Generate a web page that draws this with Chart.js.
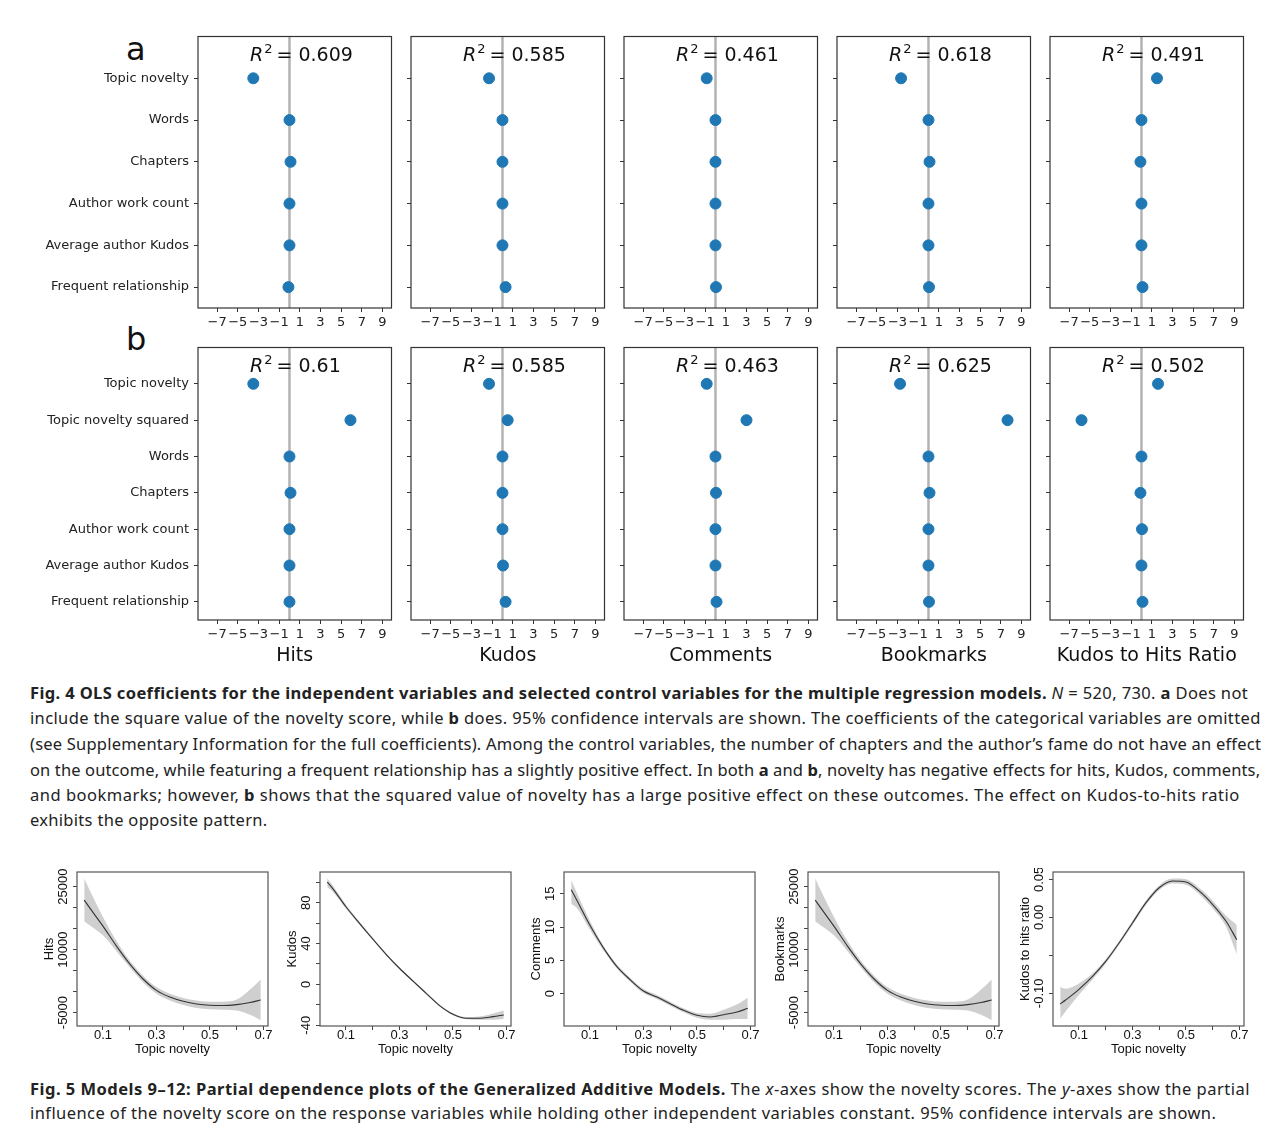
<!DOCTYPE html>
<html>
<head>
<meta charset="utf-8">
<script src="https://cdn.jsdelivr.net/npm/chart.js@4.4.1/dist/chart.umd.min.js"></script>
<style>
  body { margin: 0; background: #fff; width: 1280px; height: 1143px; position: relative; overflow: hidden; }
  .letter { position: absolute; font: 32px "DejaVu Sans"; color: #111; line-height: 32px; }
  .cap { position: absolute; left: 30px; font: 16.5px "Noto Sans"; color: #222; white-space: nowrap; line-height: 20px; }
  .cap b { font-weight: 700; }
</style>
</head>
<body>

<div class="letter" style="left:126px;top:33px">a</div>
<div class="letter" style="left:126px;top:323px">b</div>

<div class="cap" data-w="1218" style="top:683px"><b>Fig. 4 OLS coefficients for the independent variables and selected control variables for the multiple regression models.</b> <i>N</i> = 520, 730. <b>a</b> Does not</div>
<div class="cap" data-w="1231" style="top:708px">include the square value of the novelty score, while <b>b</b> does. 95% confidence intervals are shown. The coefficients of the categorical variables are omitted</div>
<div class="cap" data-w="1231" style="top:734px">(see Supplementary Information for the full coefficients). Among the control variables, the number of chapters and the author’s fame do not have an effect</div>
<div class="cap" data-w="1230" style="top:760px">on the outcome, while featuring a frequent relationship has a slightly positive effect. In both <b>a</b> and <b>b</b>, novelty has negative effects for hits, Kudos, comments,</div>
<div class="cap" data-w="1210" style="top:785px">and bookmarks; however, <b>b</b> shows that the squared value of novelty has a large positive effect on these outcomes. The effect on Kudos-to-hits ratio</div>
<div class="cap" data-w="238" style="top:810px">exhibits the opposite pattern.</div>

<div class="cap" data-w="1220" style="top:1079px"><b>Fig. 5 Models 9–12: Partial dependence plots of the Generalized Additive Models.</b> The <i>x</i>-axes show the novelty scores. The <i>y</i>-axes show the partial</div>
<div class="cap" data-w="1186" style="top:1103px">influence of the novelty score on the response variables while holding other independent variables constant. 95% confidence intervals are shown.</div>

<script>
// ---- Fig. 4 data (OLS coefficients) ----
const varsA = ["Topic novelty", "Words", "Chapters", "Author work count", "Average author Kudos", "Frequent relationship"];
const varsB = ["Topic novelty", "Topic novelty squared", "Words", "Chapters", "Author work count", "Average author Kudos", "Frequent relationship"];
const outcomes = ["Hits", "Kudos", "Comments", "Bookmarks", "Kudos to Hits Ratio"];
const r2A = ["0.609", "0.585", "0.461", "0.618", "0.491"];
const r2B = ["0.61", "0.585", "0.463", "0.625", "0.502"];
const coefA = [
  [-3.5, 0.0, 0.1, 0.0, 0.0, -0.1],
  [-1.3, 0.0, 0.0, 0.0, 0.0, 0.3],
  [-0.85, 0.0, 0.0, 0.0, 0.0, 0.05],
  [-2.65, 0.0, 0.1, 0.0, 0.0, 0.05],
  [1.5, 0.0, -0.1, 0.0, 0.0, 0.1]
];
const coefB = [
  [-3.5, 5.9, 0.0, 0.1, 0.0, 0.0, 0.0],
  [-1.3, 0.5, 0.0, 0.0, 0.0, 0.05, 0.3],
  [-0.85, 3.0, 0.0, 0.05, 0.0, 0.0, 0.1],
  [-2.75, 7.65, 0.0, 0.1, 0.0, 0.0, 0.05],
  [1.6, -5.8, 0.0, -0.1, 0.05, 0.0, 0.1]
];
const coefTicks = [-7, -5, -3, -1, 1, 3, 5, 7, 9];

// ---- Fig. 5 data (GAM partial dependence) ----
const novelty = [0.03, 0.05, 0.1, 0.15, 0.2, 0.25, 0.3, 0.35, 0.4, 0.45, 0.5, 0.55, 0.6, 0.65, 0.69];
const hitsFit = [21800, 20000, 15600, 10900, 6600, 3000, 300, -1300, -2300, -2950, -3250, -3300, -3100, -2600, -2000];
const hitsHi  = [27000, 24200, 17800, 12100, 7400, 3800, 1100, -500, -1500, -2150, -2450, -2400, -1900, 500, 2900];
const hitsLo  = [16700, 15800, 13400, 9700, 5800, 2200, -500, -2100, -3200, -3900, -4200, -4300, -4500, -5500, -6800];
const kudosFit = [100, 94, 76, 60, 44.5, 29.5, 15.8, 3.4, -8.7, -20.7, -29.2, -33.1, -33.1, -31.5, -29.9];
const kudosHi  = [104, 97, 78, 61.5, 45.5, 30.5, 16.8, 4.4, -7.7, -19.7, -28.2, -32, -31.5, -28.5, -25.6];
const kudosLo  = [95, 91, 74, 58.5, 43.5, 28.5, 14.8, 2.4, -9.7, -21.7, -30.2, -34.2, -34.7, -34.5, -33.8];
const commentsFit = [15.6, 14.1, 10.25, 6.9, 4.1, 2.1, 0.4, -0.5, -1.5, -2.5, -3.25, -3.5, -3.15, -2.75, -2.2];
const commentsHi  = [17.1, 15.2, 10.9, 7.2, 4.4, 2.4, 0.7, -0.2, -1.2, -2.2, -2.9, -3.0, -2.4, -1.6, -0.6];
const commentsLo  = [13.5, 12.9, 9.6, 6.5, 3.8, 1.8, 0.1, -0.8, -1.8, -2.8, -3.6, -3.9, -3.9, -3.8, -3.8];
const bookmarksFit = [21800, 20000, 15600, 10900, 6600, 3000, 300, -1300, -2300, -2950, -3250, -3300, -3100, -2600, -2000];
const bookmarksHi  = [27000, 24200, 17800, 12100, 7400, 3800, 1100, -500, -1500, -2150, -2450, -2400, -1900, 500, 2900];
const bookmarksLo  = [16700, 15800, 13400, 9700, 5800, 2200, -500, -2100, -3200, -3900, -4200, -4300, -4500, -5500, -6800];
const ratioFit = [-0.114, -0.1088, -0.0947, -0.078, -0.058, -0.0338, -0.0074, 0.019, 0.039, 0.0478, 0.0465, 0.0345, 0.0169, -0.0052, -0.0294];
const ratioHi  = [-0.0916, -0.094, -0.087, -0.074, -0.055, -0.031, -0.0045, 0.022, 0.042, 0.051, 0.050, 0.0385, 0.022, 0.002, -0.0099];
const ratioLo  = [-0.1335, -0.124, -0.102, -0.082, -0.061, -0.0365, -0.0103, 0.016, 0.036, 0.0445, 0.043, 0.0305, 0.0115, -0.0125, -0.0488];
const noveltyTicks = [0.1, 0.2, 0.3, 0.4, 0.5, 0.6, 0.7];
const noveltyLabels = [0.1, 0.3, 0.5, 0.7];

// stretch / squeeze each caption line to the width it has in the printed figure
document.querySelectorAll(".cap[data-w]").forEach(el => {
  const natural = el.offsetWidth;
  const chars = el.textContent.length;
  el.style.letterSpacing = ((+el.dataset.w - natural) / chars) + "px";
});

function makeCanvas(left, top, w, h) {
  const c = document.createElement("canvas");
  c.width = w; c.height = h;
  c.style.cssText = `position:absolute;left:${left}px;top:${top}px;width:${w}px;height:${h}px`;
  document.body.appendChild(c);
  return c;
}

// keep the plot box exactly where it is meant to be
function noPad(s) { s.paddingTop = 0; s.paddingBottom = 0; s.paddingLeft = 0; s.paddingRight = 0; }

// frame around the plot area (matplotlib / R box)
const boxPlugin = {
  id: "box",
  afterDraw(chart, args, opts) {
    const { ctx, chartArea: a } = chart;
    ctx.save();
    ctx.strokeStyle = opts.color || "#333";
    ctx.lineWidth = 1.2;
    ctx.strokeRect(a.left, a.top, a.right - a.left, a.bottom - a.top);
    ctx.restore();
  }
};

// "R^2 = 0.609" label inside each panel
const r2Plugin = {
  id: "r2",
  afterDraw(chart, args, opts) {
    if (!opts.text) return;
    const { ctx, chartArea: a } = chart;
    let x = a.left + 52, y = a.top + 20;
    ctx.save();
    ctx.fillStyle = "#111";
    ctx.textBaseline = "middle";
    ctx.font = 'italic 19px "DejaVu Sans"';
    ctx.fillText("R", x, y);
    x += ctx.measureText("R").width + 1;
    ctx.font = '13px "DejaVu Sans"';
    ctx.fillText("2", x, y - 7);
    x += ctx.measureText("2").width + 4;
    ctx.font = '19px "DejaVu Sans"';
    ctx.fillText("= " + opts.text, x, y);
    ctx.restore();
  }
};

function coefPanel(row, i) {
  const cats = row === "a" ? varsA : varsB;
  const vals = row === "a" ? coefA[i] : coefB[i];
  const boxTop = row === "a" ? 34 : 345;
  const boxBottom = row === "a" ? 308 : 620;
  const boxLeft = 198 + i * 213;
  const yw = i === 0 ? 198 : 10;
  const xh = row === "a" ? 26 : 50;
  const cv = makeCanvas(boxLeft - yw, boxTop - 4, yw + 194 + 6, 4 + (boxBottom - boxTop) + xh);

  new Chart(cv, {
    type: "scatter",
    data: {
      datasets: [
        {
          data: vals.map((v, k) => ({ x: v, y: k })),
          backgroundColor: "#1f77b4", borderColor: "#1f77b4",
          pointRadius: 5.5, order: 0
        },
        {
          type: "line",
          data: [{ x: 0, y: -1 }, { x: 0, y: cats.length - 0.5 }],
          borderColor: "rgba(128,128,128,0.6)", borderWidth: 2.5,
          pointRadius: 0, order: 1
        }
      ]
    },
    options: {
      responsive: false, animation: false,
      layout: { padding: { top: 4, right: 6, left: 0, bottom: 0 } },
      plugins: {
        legend: { display: false }, tooltip: { enabled: false },
        box: { color: "#333" },
        r2: { text: row === "a" ? r2A[i] : r2B[i] }
      },
      scales: {
        x: {
          type: "linear", min: -8.85, max: 9.87,
          afterBuildTicks: s => { s.ticks = coefTicks.map(v => ({ value: v })); },
          afterFit: s => { s.height = xh; noPad(s); },
          grid: { drawOnChartArea: false, tickLength: 4, color: "#333" },
          border: { display: false },
          ticks: {
            autoSkip: false, maxRotation: 0, padding: 3, color: "#222",
            font: { family: "DejaVu Sans", size: 13 },
            callback: v => String(v).replace("-", "\u2212")
          },
          title: {
            display: row === "b", text: outcomes[i], color: "#111",
            font: { family: "DejaVu Sans", size: 19 }, padding: { top: 0, bottom: 2.6 }
          }
        },
        y: {
          type: "linear", reverse: true, min: -1, max: cats.length - 0.5,
          afterBuildTicks: s => { s.ticks = cats.map((c, k) => ({ value: k })); },
          afterFit: s => { s.width = yw; noPad(s); },
          grid: { drawOnChartArea: false, tickLength: 4, color: "#333" },
          border: { display: false },
          ticks: {
            display: i === 0, autoSkip: false, padding: 5, color: "#222",
            font: { family: "DejaVu Sans", size: 13 },
            callback: v => cats[v]
          }
        }
      }
    },
    plugins: [boxPlugin, r2Plugin]
  });
}

for (let i = 0; i < 5; i++) { coefPanel("a", i); coefPanel("b", i); }

// ---- GAM panels ----
const measure = document.createElement("canvas").getContext("2d");
measure.font = '13px "Liberation Sans"';

const gamPanels = [
  { title: "Hits", fit: hitsFit, lo: hitsLo, hi: hitsHi, min: -8200, max: 28500,
    ticks: [-5000, 0, 5000, 10000, 15000, 20000, 25000], shown: [-5000, 10000, 25000], fmt: v => String(v) },
  { title: "Kudos", fit: kudosFit, lo: kudosLo, hi: kudosHi, min: -40.7, max: 110,
    ticks: [-40, -20, 0, 20, 40, 60, 80, 100], shown: [-40, 0, 40, 80], fmt: v => String(v) },
  { title: "Comments", fit: commentsFit, lo: commentsLo, hi: commentsHi, min: -4.85, max: 18.25,
    ticks: [0, 5, 10, 15], shown: [0, 5, 10, 15], fmt: v => String(v) },
  { title: "Bookmarks", fit: bookmarksFit, lo: bookmarksLo, hi: bookmarksHi, min: -8200, max: 28500,
    ticks: [-5000, 0, 5000, 10000, 15000, 20000, 25000], shown: [-5000, 10000, 25000], fmt: v => String(v) },
  { title: "Kudos to hits ratio", fit: ratioFit, lo: ratioLo, hi: ratioHi, min: -0.143, max: 0.0597,
    ticks: [-0.1, -0.05, 0, 0.05], shown: [-0.1, 0, 0.05], fmt: v => v.toFixed(2) }
];
const gamLefts = [77, 320, 564, 808, 1053];

gamPanels.forEach((p, i) => {
  const boxLeft = gamLefts[i];
  const cv = makeCanvas(boxLeft - 40, 868, 40 + 191 + 6, 4 + 154 + 34);
  const widest = Math.max(...p.shown.map(v => measure.measureText(p.fmt(v)).width));
  const pts = arr => arr.map((v, k) => ({ x: novelty[k], y: v }));

  new Chart(cv, {
    type: "line",
    data: {
      datasets: [
        { data: pts(p.fit), borderColor: "#333", borderWidth: 1.1, pointRadius: 0,
          cubicInterpolationMode: "monotone", fill: false, order: 0 },
        { data: pts(p.hi), borderWidth: 0, borderColor: "rgba(0,0,0,0)", pointRadius: 0,
          backgroundColor: "#cfcfcf", cubicInterpolationMode: "monotone", fill: "+1", order: 1 },
        { data: pts(p.lo), borderWidth: 0, borderColor: "rgba(0,0,0,0)", pointRadius: 0,
          cubicInterpolationMode: "monotone", fill: false, order: 1 }
      ]
    },
    options: {
      responsive: false, animation: false,
      layout: { padding: { top: 4, right: 6, left: 0, bottom: 0 } },
      plugins: { legend: { display: false }, tooltip: { enabled: false }, box: { color: "#555" }, r2: {} },
      scales: {
        x: {
          type: "linear", min: 0.003, max: 0.717,
          afterBuildTicks: s => { s.ticks = noveltyTicks.map(v => ({ value: v })); },
          afterFit: s => { s.height = 34; noPad(s); },
          grid: { drawOnChartArea: false, tickLength: 4, color: "#444" },
          border: { display: false },
          ticks: {
            autoSkip: false, maxRotation: 0, padding: -2, color: "#111",
            font: { family: "Liberation Sans", size: 13 },
            callback: v => noveltyLabels.includes(v) ? String(v) : ""
          },
          title: { display: true, text: "Topic novelty", color: "#111",
                   font: { family: "Liberation Sans", size: 13 }, padding: { top: 0, bottom: 3.2 } }
        },
        y: {
          type: "linear", min: p.min, max: p.max,
          afterBuildTicks: s => { s.ticks = p.ticks.map(v => ({ value: v })); },
          afterFit: s => { s.width = 40; noPad(s); },
          grid: { drawOnChartArea: false, tickLength: 4, color: "#444" },
          border: { display: false },
          ticks: {
            autoSkip: false, minRotation: 90, maxRotation: 90, crossAlign: "center",
            padding: 10 - widest / 2, color: "#111",
            font: { family: "Liberation Sans", size: 13 },
            callback: v => p.shown.includes(v) ? p.fmt(v) : ""
          },
          title: { display: true, text: p.title, color: "#111",
                   font: { family: "Liberation Sans", size: 13 }, padding: { top: 4.2, bottom: 0 } }
        }
      }
    },
    plugins: [boxPlugin]
  });
});
</script>
</body>
</html>
